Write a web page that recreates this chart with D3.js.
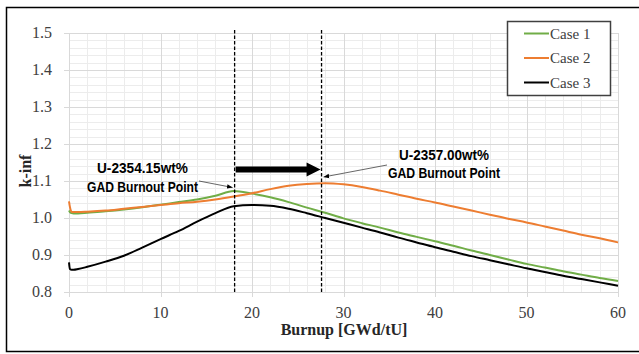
<!DOCTYPE html>
<html><head><meta charset="utf-8">
<script src="https://cdn.jsdelivr.net/npm/d3@7"></script>
<style>body{margin:0;background:#fff}svg{display:block}</style>
</head><body>
<svg id="c" width="639" height="354"></svg>
<script>
const burnup = [0, 0.1, 0.3, 0.5, 1, 2, 4, 6, 8, 10, 12, 14, 16, 18, 20, 22, 24, 26, 28, 30, 32, 34, 36, 38, 40, 42, 44, 46, 48, 50, 52, 54, 56, 58, 60];
const case1 = [1.020, 1.016, 1.013, 1.012, 1.012, 1.014, 1.018, 1.023, 1.029, 1.036, 1.043, 1.050, 1.060, 1.073, 1.066, 1.056, 1.043, 1.028, 1.014, 0.999, 0.986, 0.974, 0.961, 0.949, 0.937, 0.925, 0.912, 0.900, 0.888, 0.876, 0.866, 0.856, 0.847, 0.838, 0.830];
const case2 = [1.045, 1.030, 1.016, 1.016, 1.016, 1.017, 1.020, 1.025, 1.030, 1.035, 1.040, 1.044, 1.050, 1.058, 1.067, 1.078, 1.087, 1.092, 1.094, 1.091, 1.084, 1.074, 1.063, 1.052, 1.042, 1.031, 1.020, 1.009, 0.998, 0.988, 0.977, 0.966, 0.955, 0.945, 0.934];
const case3 = [0.880, 0.862, 0.860, 0.860, 0.862, 0.868, 0.882, 0.898, 0.920, 0.943, 0.965, 0.990, 1.013, 1.032, 1.035, 1.033, 1.025, 1.013, 1.000, 0.987, 0.974, 0.961, 0.947, 0.934, 0.921, 0.909, 0.897, 0.886, 0.875, 0.864, 0.854, 0.844, 0.835, 0.826, 0.817];
const seriesNames = ["Case 1", "Case 2", "Case 3"];
const seriesColors = ["#70ad47", "#ed7d31", "#000000"];
const xTicks = [0, 10, 20, 30, 40, 50, 60];
const yTicks = [0.8, 0.9, 1.0, 1.1, 1.2, 1.3, 1.4, 1.5];
const burnoutPoints = [18.1, 27.6];
const annotations = [["U-2354.15wt%", "GAD Burnout Point"], ["U-2357.00wt%", "GAD Burnout Point"]];
const xTitle = "Burnup [GWd/tU]";
const yTitle = "k-inf";

const svg = d3.select("#c");
const L = 69, R = 618, T = 33, B = 292;
const x = d3.scaleLinear().domain([0, 60]).range([L, R]);
const y = d3.scaleLinear().domain([0.8, 1.5]).range([B, T]);
const serif = "'Liberation Serif','Times New Roman',serif";
const narrow = "'Liberation Sans Narrow','Arial Narrow','Liberation Sans',sans-serif";

// outer frame
svg.append("path").attr("d", "M639,7.5 H6.5 V351.5 H639").attr("fill", "none").attr("stroke", "#000").attr("stroke-width", 1.5);

// minor grid
const g = svg.append("g");
d3.range(0.82, 1.5, 0.02).forEach(v => {
  if (Math.abs(v * 10 - Math.round(v * 10)) < 1e-6) return;
  g.append("line").attr("x1", L).attr("x2", R).attr("y1", Math.round(y(v)) + 0.5).attr("y2", Math.round(y(v)) + 0.5).attr("stroke", "#ececec").attr("stroke-width", 1);
});
d3.range(2, 60, 2).forEach(v => {
  if (v % 10 === 0) return;
  g.append("line").attr("y1", T).attr("y2", B).attr("x1", Math.round(x(v)) + 0.5).attr("x2", Math.round(x(v)) + 0.5).attr("stroke", "#ececec").attr("stroke-width", 1);
});
// major grid
yTicks.forEach(v => {
  g.append("line").attr("x1", L - 5).attr("x2", R).attr("y1", Math.round(y(v)) + 0.5).attr("y2", Math.round(y(v)) + 0.5).attr("stroke", "#d9d9d9").attr("stroke-width", 1);
});
xTicks.forEach(v => {
  g.append("line").attr("y1", T).attr("y2", B + 5).attr("x1", Math.round(x(v)) + 0.5).attr("x2", Math.round(x(v)) + 0.5).attr("stroke", "#d9d9d9").attr("stroke-width", 1);
});

// tick labels
svg.append("g").selectAll("text").data(yTicks).join("text")
  .attr("x", 52).attr("y", d => y(d) + 5).attr("text-anchor", "end")
  .attr("font-family", serif).attr("font-size", 16).attr("fill", "#404040")
  .text(d => d3.format(".1f")(d));
svg.append("g").selectAll("text").data(xTicks).join("text")
  .attr("x", d => x(d)).attr("y", 318).attr("text-anchor", "middle")
  .attr("font-family", serif).attr("font-size", 16).attr("fill", "#404040")
  .text(d => d);

// axis titles
svg.append("text").attr("x", 344).attr("y", 335).attr("text-anchor", "middle")
  .attr("font-family", serif).attr("font-size", 16).attr("font-weight", "bold").attr("fill", "#262626").text(xTitle);
svg.append("text").attr("transform", "translate(31,171) rotate(-90)").attr("text-anchor", "middle")
  .attr("font-family", serif).attr("font-size", 16).attr("font-weight", "bold").attr("fill", "#262626").text(yTitle);

// series
const line = d3.line().x((d, i) => x(burnup[i])).y(d => y(d)).curve(d3.curveMonotoneX);
[case1, case2, case3].forEach((s, k) => {
  svg.append("path").attr("d", line(s)).attr("fill", "none").attr("stroke", seriesColors[k]).attr("stroke-width", 2).attr("stroke-linejoin", "round");
});

// dashed burnout lines
burnoutPoints.forEach(v => {
  svg.append("line").attr("x1", x(v)).attr("x2", x(v)).attr("y1", 30).attr("y2", B)
    .attr("stroke", "#000").attr("stroke-width", 1.3).attr("stroke-dasharray", "3.5,2");
});

// thick arrow
const ay = 169.5, ax0 = x(burnoutPoints[0]) + 1, ax1 = x(burnoutPoints[1]) - 1;
svg.append("line").attr("x1", ax0).attr("x2", ax1 - 12).attr("y1", ay).attr("y2", ay).attr("stroke", "#000").attr("stroke-width", 6);
svg.append("path").attr("d", `M${ax1 - 14},${ay - 7} L${ax1},${ay} L${ax1 - 14},${ay + 7} Z`).attr("fill", "#000");

// annotations
svg.append("defs").append("marker").attr("id", "ah").attr("viewBox", "0 0 10 10").attr("refX", 10).attr("refY", 5)
  .attr("markerWidth", 7).attr("markerHeight", 7).attr("orient", "auto")
  .append("path").attr("d", "M0,1 L10,5 L0,9 Z").attr("fill", "#000");
const annPos = [{cx: 142.5, y1: 173, y2: 192, w1: 91, w2: 111, lx1: 199, ly1: 181, lx2: x(burnoutPoints[0]) - 2, ly2: 187.5},
                {cx: 444, y1: 159.5, y2: 178, w1: 90, w2: 112, lx1: 387, ly1: 165, lx2: x(burnoutPoints[1]) + 2, ly2: 177}];
annotations.forEach((a, i) => {
  const p = annPos[i];
  svg.append("text").attr("x", p.cx).attr("y", p.y1).attr("text-anchor", "middle").attr("font-family", narrow)
    .attr("font-size", 15).attr("font-weight", "bold").attr("fill", "#000").attr("textLength", p.w1).attr("lengthAdjust", "spacingAndGlyphs").text(a[0]);
  svg.append("text").attr("x", p.cx).attr("y", p.y2).attr("text-anchor", "middle").attr("font-family", narrow)
    .attr("font-size", 15).attr("font-weight", "bold").attr("fill", "#000").attr("textLength", p.w2).attr("lengthAdjust", "spacingAndGlyphs").text(a[1]);
  svg.append("line").attr("x1", p.lx1).attr("y1", p.ly1).attr("x2", p.lx2).attr("y2", p.ly2)
    .attr("stroke", "#404040").attr("stroke-width", 0.8).attr("marker-end", "url(#ah)");
});

// legend
const lg = svg.append("g");
lg.append("rect").attr("x", 507.5).attr("y", 21.5).attr("width", 103).attr("height", 74).attr("fill", "#fff").attr("stroke", "#404040").attr("stroke-width", 1.5);
seriesNames.forEach((n, i) => {
  const ly = 33.5 + i * 24.5;
  lg.append("line").attr("x1", 524).attr("x2", 549).attr("y1", ly).attr("y2", ly).attr("stroke", seriesColors[i]).attr("stroke-width", 2);
  lg.append("text").attr("x", 550).attr("y", ly + 5).attr("font-family", serif).attr("font-size", 15).attr("fill", "#404040").text(n);
});
</script>
</body></html>
